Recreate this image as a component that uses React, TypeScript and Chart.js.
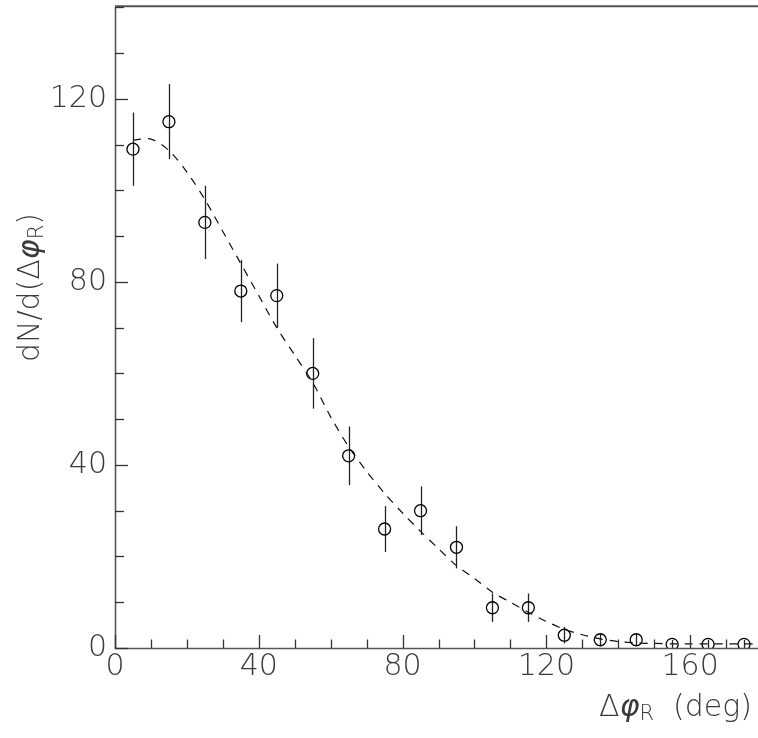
import { useEffect, useRef } from "react";
import { Chart, registerables } from "chart.js";

Chart.register(...registerables);

// ---- data ----
const binCenters = [5, 15, 25, 35, 45, 55, 65, 75, 85, 95, 105, 115, 125, 135, 145, 155, 165, 175];
const counts = [109, 115, 93, 78, 77, 60, 42, 26, 30, 22, 8.8, 8.8, 2.8, 1.8, 1.8, 0.8, 0.8, 0.8];
const errors = [8, 8.2, 8, 6.8, 7, 7.7, 6.4, 5, 5.3, 4.6, 3.1, 3.1, 1.8, 1.3, 1.3, 1, 1, 1];

const fitX = [5, 10, 15, 20, 25, 30, 35, 40, 45, 50, 55, 60, 65, 70, 75, 80, 85, 90, 95, 100, 105, 110, 115, 120, 125, 130, 135, 140, 145, 150, 155, 160, 165, 170, 175, 180];
const fitY = [111, 111.2, 108.7, 104, 98, 91, 84, 77, 70, 64, 58, 50.5, 44, 38.6, 33.8, 29.5, 25.5, 21.7, 18, 15.2, 12.2, 10, 7.8, 5.8, 4.1, 2.9, 2.0, 1.4, 1.1, 1.0, 0.9, 0.9, 0.9, 0.9, 0.9, 0.9];

const xMajorTicks = [0, 40, 80, 120, 160];
const yMajorTicks = [0, 40, 80, 120];
const X_MIN = 0, X_MAX = 180, Y_MIN = 0, Y_MAX = 140;
const MINOR_STEP = 10;

const FONT = '"DejaVu Sans", "Liberation Sans", sans-serif';
const TEXT_COLOR = "#3a3a3a";

const drawPlugin = {
  id: "rootStyle",
  beforeDatasetsDraw(chart: any) {
    const { ctx } = chart;
    const xs = chart.scales.x, ys = chart.scales.y;
    ctx.save();
    ctx.strokeStyle = "#222";
    ctx.lineWidth = 1.3;
    for (let i = 0; i < binCenters.length; i++) {
      const px = Math.round(xs.getPixelForValue(binCenters[i])) + 0.5;
      const y1 = ys.getPixelForValue(counts[i] + errors[i]);
      const y2 = ys.getPixelForValue(Math.max(0, counts[i] - errors[i]));
      ctx.beginPath();
      ctx.moveTo(px, y1);
      ctx.lineTo(px, y2);
      ctx.stroke();
    }
    ctx.restore();
  },
  afterDraw(chart: any) {
    const { ctx, chartArea } = chart;
    const xs = chart.scales.x, ys = chart.scales.y;
    const L = chartArea.left, B = chartArea.bottom, T = chartArea.top, R = chartArea.right;
    ctx.save();
    // frame
    ctx.strokeStyle = "#555";
    ctx.lineWidth = 1.6;
    ctx.beginPath();
    ctx.moveTo(L + 0.5, T);
    ctx.lineTo(L + 0.5, B + 0.5);
    ctx.lineTo(R, B + 0.5);
    ctx.stroke();
    ctx.lineWidth = 2;
    ctx.beginPath();
    ctx.moveTo(L, T - 1);
    ctx.lineTo(R, T - 1);
    ctx.stroke();

    // ticks
    ctx.strokeStyle = "#333";
    ctx.lineWidth = 1.3;
    for (let v = X_MIN; v <= X_MAX; v += MINOR_STEP) {
      const major = xMajorTicks.includes(v);
      const px = Math.round(xs.getPixelForValue(v)) + 0.5;
      ctx.beginPath();
      ctx.moveTo(px, B);
      ctx.lineTo(px, B - (major ? 13 : 8.5));
      ctx.stroke();
    }
    for (let v = Y_MIN; v <= Y_MAX; v += MINOR_STEP) {
      const major = yMajorTicks.includes(v);
      const py = Math.round(ys.getPixelForValue(v)) + 0.5;
      ctx.beginPath();
      ctx.moveTo(L, py);
      ctx.lineTo(L + (major ? 13 : 9), py);
      ctx.stroke();
    }

    // tick labels
    ctx.fillStyle = TEXT_COLOR;
    ctx.font = `200 30px ${FONT}`;
    ctx.textAlign = "center";
    ctx.textBaseline = "middle";
    for (const v of xMajorTicks) {
      ctx.fillText(String(v), xs.getPixelForValue(v), B + 19);
    }
    ctx.textAlign = "right";
    for (const v of yMajorTicks) {
      ctx.fillText(String(v), L - 8, ys.getPixelForValue(v));
    }

    // x title: Δφ_R  (deg)
    const parts = [
      { t: "Δ", f: `200 30px ${FONT}`, dy: 0 },
      { t: "φ", f: `italic 300 30px ${FONT}`, dy: 0 },
      { t: "R", f: `200 21px ${FONT}`, dy: 4 },
      { t: "  (deg)", f: `200 30px ${FONT}`, dy: 0 },
    ];
    ctx.textAlign = "left";
    ctx.textBaseline = "alphabetic";
    let total = 0;
    for (const p of parts) { ctx.font = p.f; total += ctx.measureText(p.t).width; }
    let x = 752 - total;
    for (const p of parts) {
      ctx.font = p.f;
      ctx.fillText(p.t, x, 716 + p.dy);
      x += ctx.measureText(p.t).width;
    }

    // y title: dN/d(Δφ_R)
    const yparts = [
      { t: "dN/d(Δ", f: `200 30px ${FONT}`, dy: 0 },
      { t: "φ", f: `italic 300 30px ${FONT}`, dy: 0 },
      { t: "R", f: `200 21px ${FONT}`, dy: 4 },
      { t: ")", f: `200 30px ${FONT}`, dy: 0 },
    ];
    ctx.save();
    ctx.translate(39, 362);
    ctx.rotate(-Math.PI / 2);
    let yx = 0;
    for (const p of yparts) {
      ctx.font = p.f;
      ctx.fillText(p.t, yx, p.dy);
      yx += ctx.measureText(p.t).width;
    }
    ctx.restore();

    ctx.restore();
  },
};

export default function App() {
  const ref = useRef<HTMLCanvasElement | null>(null);
  useEffect(() => {
    if (!ref.current) return;
    const chart = new Chart(ref.current, {
      type: "scatter",
      data: {
        datasets: [
          {
            label: "fit",
            data: fitX.map((x, i) => ({ x, y: fitY[i] })),
            showLine: true,
            borderColor: "#111",
            borderWidth: 1.2,
            borderDash: [8, 7],
            pointRadius: 0,
            fill: false,
            tension: 0.3,
          },
          {
            label: "data",
            data: binCenters.map((x, i) => ({ x, y: counts[i] })),
            pointStyle: "circle",
            pointRadius: 6,
            pointBorderColor: "#000",
            pointBackgroundColor: "rgba(0,0,0,0)",
            pointBorderWidth: 1.3,
            showLine: false,
          },
        ],
      },
      options: {
        responsive: false,
        animation: false,
        devicePixelRatio: 1,
        layout: { padding: { left: 115, top: 3, right: 8, bottom: 90 } },
        plugins: { legend: { display: false }, tooltip: { enabled: false } },
        scales: {
          x: { type: "linear", min: X_MIN, max: X_MAX, display: false },
          y: { type: "linear", min: Y_MIN, max: Y_MAX, display: false },
        },
      },
      plugins: [drawPlugin],
    });
    return () => chart.destroy();
  }, []);
  return (
    <div style={{ position: "fixed", left: 0, top: 0, width: 758, height: 738, overflow: "hidden", background: "#fff" }}>
      <canvas ref={ref} width={770} height={738} style={{ display: "block" }} />
    </div>
  );
}
